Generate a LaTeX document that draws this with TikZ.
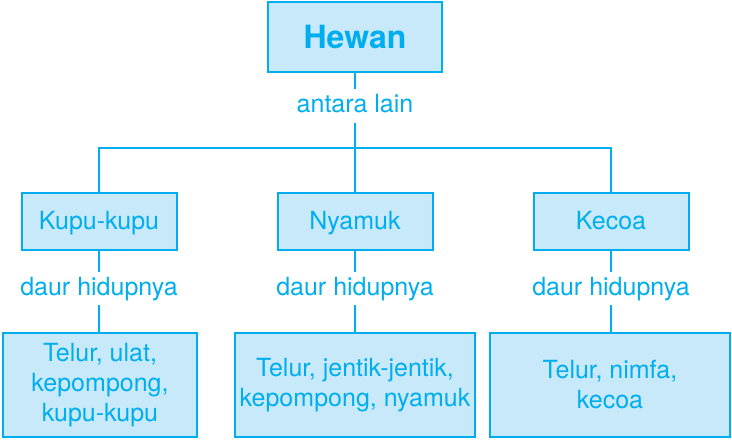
\documentclass[tikz,border=0pt]{standalone}
\usepackage{fontspec}
\setmainfont{TeX Gyre Heros}
\usetikzlibrary{positioning}
\definecolor{skyline}{HTML}{00AEEF}
\definecolor{skyfill}{HTML}{C7E9FA}

\begin{document}
\begin{tikzpicture}[
  x=1pt, y=-1pt,
  font=\fontsize{25}{30}\selectfont,
  box/.style={draw=skyline, fill=skyfill, line width=2pt, text=skyline, align=center, inner sep=0pt},
  small/.style={box, minimum width=155pt, minimum height=57pt, text height=20pt, text depth=4pt},
  life/.style={box, minimum width=240pt, minimum height=104pt},
  tag/.style={text=skyline, inner sep=0pt, minimum height=33pt, text height=18pt, text depth=5pt},
  wire/.style={draw=skyline, line width=2pt}
]
\useasboundingbox (0,0) rectangle (732,440);
\node[box, minimum width=174pt, minimum height=70pt, font=\fontsize{32}{36}\selectfont\bfseries] (hewan) at (355,37) {Hewan};
\node[tag] (antara) at (355,106) {antara lain};
\coordinate (jt) at (355,148);
\node[small] (kupu) at (99,221.5) {Kupu-kupu};
\node[small] (nyamuk) at (355,221.5) {Nyamuk};
\node[small] (kecoa) at (611,221.5) {Kecoa};
\node[tag] (daur1) at (99,288.5) {daur hidupnya};
\node[tag] (daur2) at (355,288.5) {daur hidupnya};
\node[tag] (daur3) at (611,288.5) {daur hidupnya};
\node[life, minimum width=194pt] (hidup1) at (100,385) {Telur, ulat,\\kepompong,\\kupu-kupu};
\node[life] (hidup2) at (355,385) {Telur, jentik-jentik,\\kepompong, nyamuk};
\node[life] (hidup3) at (610,385) {Telur, nimfa,\\kecoa};
\draw[wire] (hewan) -- (antara);
\draw[wire] (antara) -- (jt);
\draw[wire] (kupu) |- (jt) -| (kecoa);
\draw[wire] (jt) -- (nyamuk);
\draw[wire] (kupu) -- (daur1);
\draw[wire] (nyamuk) -- (daur2);
\draw[wire] (kecoa) -- (daur3);
\draw[wire] (daur1) -- (hidup1.north -| daur1);
\draw[wire] (daur2) -- (hidup2);
\draw[wire] (daur3) -- (hidup3.north -| daur3);
\end{tikzpicture}
\end{document}
